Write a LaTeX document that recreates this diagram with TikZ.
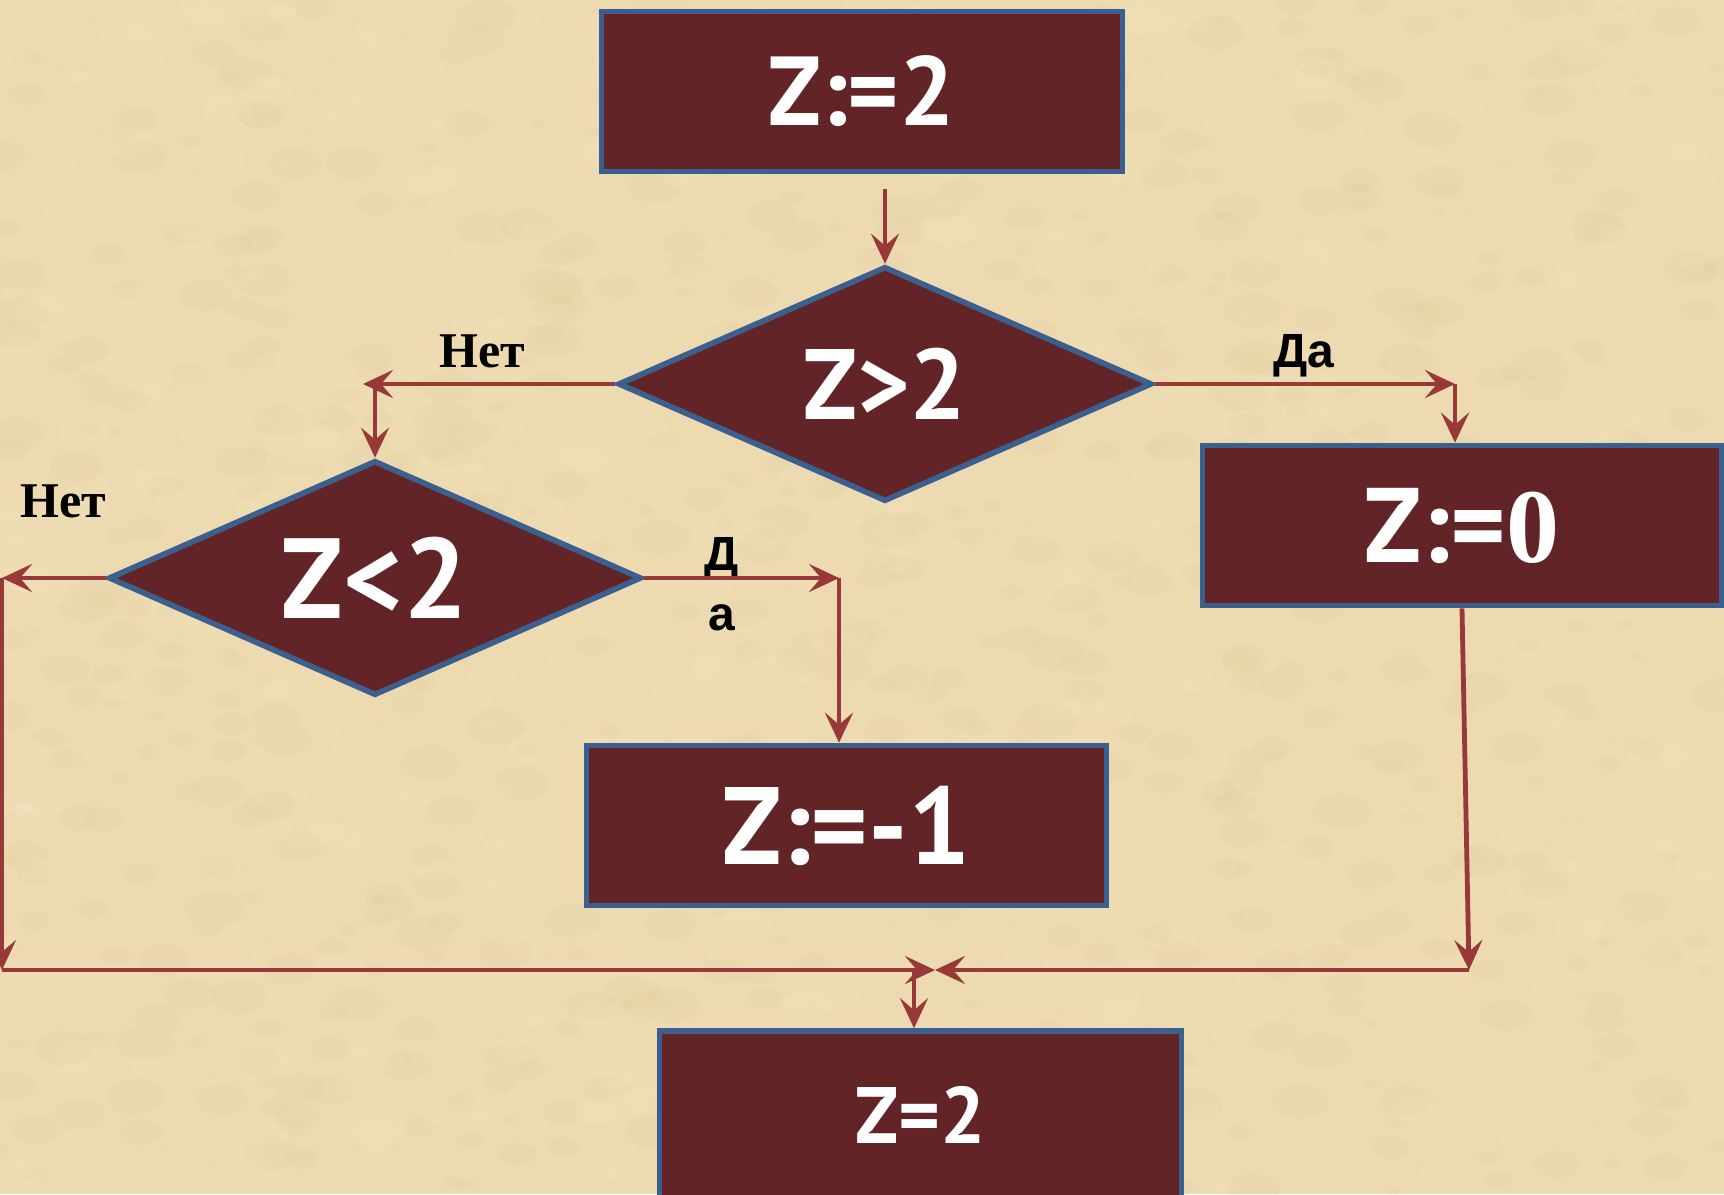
\documentclass[tikz,border=0pt]{standalone}
\usepackage{fontspec}
\setmainfont{PT Sans}
\newfontfamily\serifbf{Liberation Serif}
\newfontfamily\arialbf{Liberation Sans}
\usetikzlibrary{shapes.geometric,arrows.meta,calc}
\definecolor{parch}{HTML}{EDDAB0}
\definecolor{parchdark}{HTML}{D8BE8C}
\definecolor{parchlight}{HTML}{F8EBCC}
\definecolor{maroonfill}{HTML}{622426}
\definecolor{bordblue}{HTML}{3B6090}
\definecolor{arrred}{HTML}{993838}
\newcommand\bxf[1]{\fontsize{#1}{#1}\selectfont\bfseries}
\tikzset{
  blk/.style={draw=bordblue, line width=2.8pt, fill=maroonfill, text=white, inner sep=0pt},
  boxn/.style={blk, rectangle, minimum width=260pt, minimum height=80pt},
  dia/.style={blk, diamond, aspect=2.28, minimum width=267pt, minimum height=117.5pt},
  arr/.style={draw=arrred, line width=2.4pt, -{Stealth[length=15pt,width=14pt,inset=6pt]}},
  netlbl/.style={font=\serifbf\bfseries\fontsize{25}{25}\selectfont, text=black, inner sep=0pt, anchor=base},
  dalbl/.style={font=\arialbf\bfseries\fontsize{24}{24}\selectfont, text=black, inner sep=0pt, anchor=base}
}
\begin{document}
\begin{tikzpicture}[x=0.5pt,y=-0.5pt]
\fill[parch] (0,0) rectangle (1724,1194);
\useasboundingbox (0,0) rectangle (1724,1194);
\begin{scope}
\clip (0,0) rectangle (1724,1194);
\pgfmathsetseed{7}
\foreach \i in {1,...,700}{
  \pgfmathsetmacro\xx{rnd*1724}
  \pgfmathsetmacro\yy{rnd*1194}
  \pgfmathsetmacro\rr{6+rnd*24}
  \fill[parchdark, opacity=0.08] (\xx,\yy) ellipse [x radius=\rr, y radius=0.6*\rr];
}
\foreach \i in {1,...,600}{
  \pgfmathsetmacro\xx{rnd*1724}
  \pgfmathsetmacro\yy{rnd*1194}
  \pgfmathsetmacro\rr{6+rnd*22}
  \fill[parchlight, opacity=0.12] (\xx,\yy) ellipse [x radius=\rr, y radius=0.6*\rr];
}
\end{scope}

% nodes
\node[boxn, minimum width=260.5pt] (b1) at (862,91.5) {\bxf{49}Z:=2};
\node[dia] (d1) at (885,384) {\bxf{50}Z>2};
\node[boxn, minimum width=259.5pt] (b0) at (1462,525.5) {\bxf{53}Z:={\serifbf\bfseries 0}};
\node[dia, minimum width=266.5pt] (d2) at (375,578) {\bxf{57}Z<2};
\node[boxn] (bm1) at (846.5,825.5) {\bxf{55}Z:=-1};
\node[boxn, minimum width=261pt, minimum height=84pt] (bz) at (920.5,1115) {\bxf{40}Z=2};

% labels
\node[netlbl] (n1) at (482,367) {Нет};
\node[netlbl] (n2) at (63,517) {Нет};
\node[dalbl] (da1) at (1304,367) {Да};
\node[dalbl] (da2) at (722,570) {Д};
\node[dalbl] (da3) at (722,630) {а};

% coordinates
\coordinate (c1) at (885,189);
\coordinate (nl) at (363,384);
\coordinate (dr) at (1455,384);
\coordinate (ll) at (2,578);
\coordinate (lb) at (2,970);
\coordinate (rr) at (839,578);
\coordinate (rb) at (1469,970);
\coordinate (jm) at (935,970);
\coordinate (jd) at (914,970);

% connectors
\draw[arr] (c1) -- (d1.north);
\draw[arr] (d1.west) -- (nl);
\draw[arr] (d1.west -| d2.north) -- (d2.north);
\draw[arr] (d1.east) -- (dr);
\draw[arr] (dr) -- (dr |- b0.north);
\draw[arr] (d2.west) -- (ll);
\draw[arr] (ll) -- (lb);
\draw[arr] (d2.east) -- (rr);
\draw[arr] (rr) -- (rr |- bm1.north);
\draw[arr] (b0.south) -- (rb);
\draw[arr] (lb) -- (jm);
\draw[arr] (rb) -- (jm);
\draw[arr] (jd) -- (jd |- bz.north);
\end{tikzpicture}
\end{document}
